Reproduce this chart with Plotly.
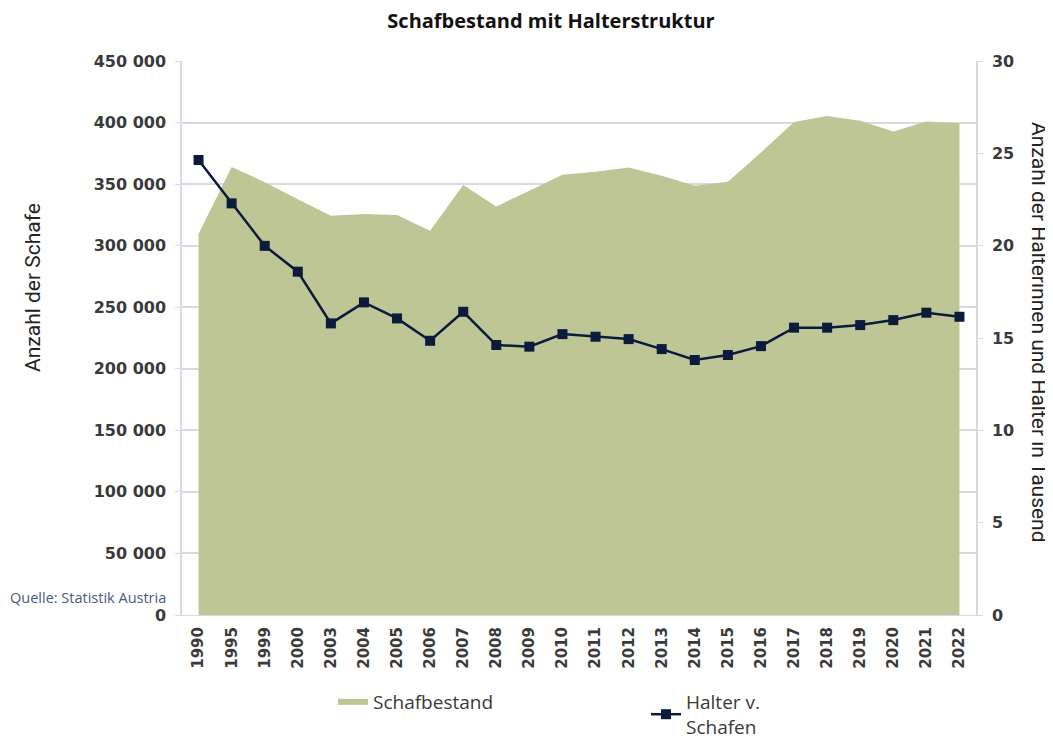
import plotly.graph_objects as go

years = ["1990", "1995", "1999", "2000", "2003", "2004", "2005", "2006", "2007", "2008",
         "2009", "2010", "2011", "2012", "2013", "2014", "2015", "2016", "2017", "2018",
         "2019", "2020", "2021", "2022"]
schafbestand = [309500, 364000, 351600, 337700, 324300, 325700, 324900, 312200, 349200, 331900,
                344600, 357600, 360000, 363500, 356800, 348600, 352000, 375700, 400500, 405400,
                401400, 392700, 400800, 399500]
halter = [24.64, 22.29, 19.99, 18.59, 15.79, 16.93, 16.06, 14.85, 16.42, 14.62,
          14.53, 15.21, 15.07, 14.94, 14.40, 13.81, 14.08, 14.56, 15.56, 15.56,
          15.70, 15.97, 16.37, 16.15]
left_ticks = [0, 50000, 100000, 150000, 200000, 250000, 300000, 350000, 400000, 450000]
left_ticktext = ["0", "50 000", "100 000", "150 000", "200 000", "250 000", "300 000",
                 "350 000", "400 000", "450 000"]
right_ticks = [0, 5, 10, 15, 20, 25, 30]

AREA = "#bec695"
LINE = "#0c1a3c"
GRID = "#d9d9e2"
TXT = "#3a3a3a"

W, H = 1053, 738
OFF = 8  # page body margin offset
# target page positions of plot area
PL, PR, PT, PB = 182, 976, 61, 615
L, T = PL - OFF, PT - OFF
R = W - (PR - OFF)
B = H - (PB - OFF)

fig = go.Figure()
fig.add_trace(go.Scatter(
    x=years, y=schafbestand, name="Schafbestand", mode="none",
    fill="tozeroy", fillcolor=AREA, yaxis="y"))
fig.add_trace(go.Scatter(
    x=years, y=halter, name="Halter v.<br>Schafen", mode="lines+markers",
    line=dict(color=LINE, width=2.5),
    marker=dict(symbol="square", size=10, color=LINE), yaxis="y2"))

tickfont = dict(family="DejaVu Sans", size=16, color=TXT, weight="bold")

fig.update_layout(
    width=W, height=H,
    paper_bgcolor="white", plot_bgcolor="white",
    margin=dict(l=L, r=R, t=T, b=B, autoexpand=False),
    title=dict(text="<b>Schafbestand mit Halterstruktur</b>", x=(551 - OFF) / W, xanchor="center",
               xref="container", yref="container",
               y=1 - (21 - OFF) / H, yanchor="middle",
               font=dict(family="Open Sans", size=20, color="#111111")),
    xaxis=dict(type="category", range=[-0.5, 23.5], tickangle=-90,
               tickfont=dict(family="DejaVu Sans", size=15, color=TXT, weight="bold"),
               showgrid=False, showline=True, linecolor=GRID, linewidth=1,
               ticks="", zeroline=False, automargin=False, ticklabelstandoff=5),
    yaxis=dict(range=[0, 450000], tickvals=left_ticks, ticktext=left_ticktext,
               tickfont=tickfont,
               showgrid=True, gridcolor=GRID, gridwidth=1.5,
               showline=True, linecolor=GRID, linewidth=1.5, ticks="outside", ticklen=5,
               tickcolor=GRID, zeroline=False, ticklabelstandoff=6, automargin=False),
    yaxis2=dict(range=[0, 30], tickvals=right_ticks, overlaying="y", side="right",
                tickfont=tickfont,
                showgrid=False, showline=True, linecolor=GRID, linewidth=1.5, ticks="outside",
                ticklen=5, tickcolor=GRID, zeroline=False, ticklabelstandoff=6, automargin=False),
    showlegend=True,
    legend=dict(orientation="h", xref="container", yref="container",
                x=(333 - OFF) / W, y=1 - (683 - OFF) / H, xanchor="left", yanchor="top",
                font=dict(family="Open Sans", size=19, color=TXT),
                entrywidth=268, bgcolor="rgba(0,0,0,0)"),
    annotations=[
        dict(text="Anzahl der Schafe", textangle=-90, x=33, y=288,
             xanchor="center", yanchor="middle",
             font=dict(family="Roboto", size=21, color="#222222")),
        dict(text="Anzahl der Halterinnen und Halter in Tausend", textangle=90,
             x=1039, y=332, xanchor="center", yanchor="middle",
             font=dict(family="Roboto", size=21, color="#222222")),
        dict(text="Quelle: Statistik Austria", x=8, y=597, xanchor="left", yanchor="middle",
             font=dict(family="Open Sans", size=14.5, color="#4a5a80")),
    ],
)

new_ann = []
for a in fig.layout.annotations:
    a = a.to_plotly_json()
    a["xref"] = "paper"; a["yref"] = "paper"; a["showarrow"] = False
    fx = a["x"] - OFF
    fy = a["y"] - OFF
    a["x"] = (fx - L) / (W - L - R)
    a["y"] = (H - B - fy) / (H - T - B)
    new_ann.append(a)
fig.layout.annotations = new_ann

fig.write_html("out.html")
